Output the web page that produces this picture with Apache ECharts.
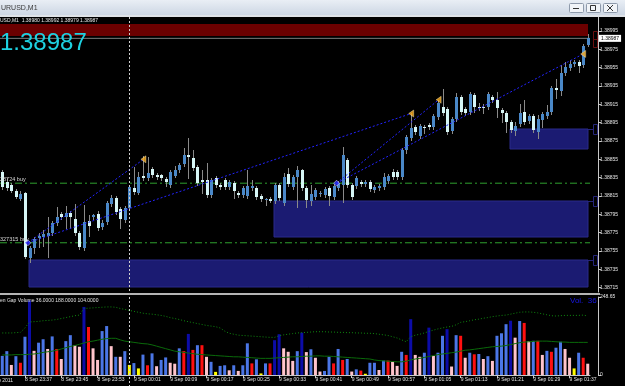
<!DOCTYPE html>
<html><head><meta charset="utf-8">
<script src="https://cdn.jsdelivr.net/npm/echarts@6/dist/echarts.min.js"></script>
<style>html,body{margin:0;padding:0;background:#000;overflow:hidden}#c{width:625px;height:386px}</style>
</head><body><div id="c"></div>
<script>
// ---------- data ----------
const opens = [
1.38841,1.38830,1.38827,1.38820,1.38812,1.38818,1.38747,1.38758,1.38769,1.38770,
1.38771,1.38775,1.38786,1.38795,1.38792,1.38796,1.38790,1.38775,1.38758,1.38788,
1.38792,1.38795,1.38781,1.38787,1.38806,1.38813,1.38801,1.38789,1.38802,1.38824,
1.38818,1.38837,1.38835,1.38844,1.38838,1.38838,1.38834,1.38827,1.38837,1.38843,
1.38850,1.38860,1.38856,1.38847,1.38832,1.38832,1.38816,1.38835,1.38827,1.38832,
1.38825,1.38829,1.38818,1.38816,1.38815,1.38824,1.38824,1.38815,1.38811,1.38812,
1.38810,1.38827,1.38807,1.38839,1.38825,1.38836,1.38843,1.38824,1.38810,1.38814,
1.38817,1.38816,1.38824,1.38814,1.38824,1.38827,1.38854,1.38827,1.38826,1.38830,
1.38828,1.38830,1.38822,1.38824,1.38825,1.38831,1.38841,1.38841,1.38836,1.38865,
1.38878,1.38890,1.38880,1.38890,1.38892,1.38890,1.38901,1.38912,1.38910,1.38886,
1.38899,1.38923,1.38910,1.38907,1.38925,1.38912,1.38912,1.38912,1.38923,1.38920,
1.38909,1.38906,1.38896,1.38886,1.38894,1.38907,1.38897,1.38902,1.38885,1.38898,
1.38902,1.38907,1.38933,1.38930,1.38949,1.38955,1.38959,1.38961,1.38958,1.38980];
const closes = [
1.38825,1.38824,1.38820,1.38814,1.38817,1.38748,1.38758,1.38768,1.38771,1.38774,
1.38775,1.38786,1.38792,1.38792,1.38796,1.38792,1.38775,1.38759,1.38787,1.38782,
1.38794,1.38780,1.38786,1.38807,1.38813,1.38798,1.38790,1.38802,1.38825,1.38819,
1.38836,1.38835,1.38840,1.38838,1.38836,1.38835,1.38830,1.38841,1.38843,1.38849,
1.38860,1.38858,1.38846,1.38829,1.38830,1.38816,1.38832,1.38827,1.38825,1.38825,
1.38830,1.38820,1.38816,1.38824,1.38826,1.38826,1.38814,1.38812,1.38812,1.38810,
1.38827,1.38813,1.38836,1.38828,1.38836,1.38843,1.38824,1.38811,1.38817,1.38822,
1.38818,1.38823,1.38815,1.38826,1.38829,1.38860,1.38827,1.38814,1.38835,1.38828,
1.38830,1.38823,1.38825,1.38826,1.38836,1.38837,1.38836,1.38836,1.38865,1.38879,
1.38889,1.38885,1.38891,1.38889,1.38890,1.38902,1.38916,1.38906,1.38885,1.38899,
1.38923,1.38907,1.38906,1.38926,1.38912,1.38911,1.38912,1.38926,1.38920,1.38911,
1.38906,1.38896,1.38887,1.38891,1.38906,1.38896,1.38902,1.38887,1.38899,1.38904,
1.38907,1.38933,1.38931,1.38949,1.38956,1.38959,1.38961,1.38957,1.38979,1.38987];
const lows = [
1.38823,1.38822,1.38819,1.38813,1.38811,1.38747,1.38743,1.38753,1.38759,1.38760,
1.38748,1.38772,1.38783,1.38790,1.38780,1.38780,1.38772,1.38757,1.38756,1.38771,
1.38790,1.38778,1.38779,1.38784,1.38804,1.38795,1.38780,1.38787,1.38800,1.38817,
1.38817,1.38832,1.38832,1.38836,1.38834,1.38832,1.38826,1.38825,1.38836,1.38841,
1.38848,1.38835,1.38843,1.38827,1.38818,1.38814,1.38814,1.38825,1.38823,1.38823,
1.38823,1.38813,1.38814,1.38814,1.38813,1.38822,1.38812,1.38810,1.38805,1.38808,
1.38807,1.38811,1.38805,1.38826,1.38823,1.38803,1.38822,1.38803,1.38805,1.38812,
1.38815,1.38814,1.38805,1.38812,1.38822,1.38808,1.38825,1.38812,1.38824,1.38826,
1.38826,1.38820,1.38819,1.38822,1.38823,1.38829,1.38834,1.38834,1.38834,1.38862,
1.38876,1.38883,1.38878,1.38884,1.38888,1.38888,1.38899,1.38903,1.38883,1.38884,
1.38897,1.38904,1.38903,1.38904,1.38907,1.38909,1.38906,1.38910,1.38918,1.38901,
1.38896,1.38885,1.38885,1.38882,1.38891,1.38894,1.38895,1.38885,1.38878,1.38890,
1.38900,1.38904,1.38922,1.38925,1.38947,1.38952,1.38957,1.38950,1.38956,1.38979];
const highs = [
1.38843,1.38835,1.38829,1.38823,1.38820,1.38819,1.38760,1.38770,1.38775,1.38778,
1.38792,1.38788,1.38803,1.38798,1.38804,1.38799,1.38806,1.38777,1.38805,1.38794,
1.38795,1.38799,1.38789,1.38810,1.38816,1.38815,1.38803,1.38804,1.38827,1.38847,
1.38841,1.38859,1.38858,1.38847,1.38840,1.38839,1.38836,1.38843,1.38848,1.38851,
1.38867,1.38878,1.38865,1.38849,1.38843,1.38851,1.38835,1.38837,1.38829,1.38835,
1.38832,1.38831,1.38820,1.38826,1.38843,1.38832,1.38826,1.38817,1.38813,1.38814,
1.38829,1.38829,1.38840,1.38846,1.38838,1.38848,1.38844,1.38826,1.38827,1.38824,
1.38820,1.38825,1.38826,1.38828,1.38831,1.38868,1.38856,1.38829,1.38837,1.38832,
1.38832,1.38832,1.38827,1.38828,1.38840,1.38839,1.38844,1.38843,1.38867,1.38882,
1.38906,1.38892,1.38894,1.38892,1.38895,1.38904,1.38920,1.38932,1.38912,1.38901,
1.38927,1.38925,1.38912,1.38928,1.38927,1.38916,1.38915,1.38928,1.38925,1.38928,
1.38911,1.38908,1.38898,1.38896,1.38915,1.38920,1.38904,1.38904,1.38903,1.38907,
1.38914,1.38935,1.38943,1.38958,1.38961,1.38963,1.38963,1.38963,1.38981,1.38992];

const volumes = [
61,76,32,60,39,122,238,77,103,114,
83,123,83,51,108,127,95,90,217,153,
85,48,140,156,92,58,58,76,32,38,
21,65,31,69,28,48,56,39,36,85,
76,131,80,95,95,58,42,10,29,31,
15,31,13,31,101,37,50,5,37,37,
111,130,85,74,45,76,135,73,82,55,
11,13,58,37,83,48,51,11,18,14,
4,39,39,16,46,46,42,29,74,64,
178,64,58,71,151,61,71,125,146,27,
127,125,55,71,66,67,51,60,45,125,
133,162,173,119,172,166,108,109,109,64,
77,74,87,106,83,55,21,71,55,36];
// volume class: B bull, N strong bull, P bear, R strong bear, Y low
const volClass = ("BBPBRBNPBB"+"PBRPBBPPNR"+"PPBBPBPBYB"+"YBRBPBBPPB"+"RNRBRPBYBB"+
  "PBPBBRBYBR"+"NNPPPBNPBP"+"PBBRBRBPBR"+"YBBPBRPPBR"+"NPPBNPBBNP"+
  "BRPBRBPBPB"+"BBNPBRPBRP"+"BRBBPPYBRP").split("");
const upperBand = [
134,134,134,135,136,150,169,170,171,173,
174,175,177,180,183,186,189,191,212,213,
214,215,216,217,217,216,212,209,206,203,
200,197,195,194,192,190,187,183,180,177,
173,170,167,164,161,158,156,154,150,140,
133,130,127,126,125,124,123,122,121,120,
120,125,128,130,132,134,135,136,137,138,
138,138,137,137,136,136,135,135,134,134,
133,133,132,130,128,126,122,118,112,106,
122,127,130,134,139,143,147,150,153,155,
160,168,170,173,176,178,181,183,186,188,
190,191,194,197,200,201,201,200,198,195,
192,189,188,189,190,190,190,190,191,188];
const avgLine = [
64,64,64,65,65,65,66,67,69,72,
74,76,79,83,87,91,94,98,102,106,
108,111,114,116,117,117,112,108,106,104,
102,100,99,96,92,88,84,80,76,74,
72,70,68,66,65,64,63,62,61,60,
59,58,58,57,56,55,54,53,53,53,
54,55,56,57,58,58,59,60,60,61,
61,60,60,59,58,57,56,55,54,53,
52,51,48,46,45,44,43,42,42,44,
48,51,53,56,59,62,65,67,69,71,
73,76,79,80,82,84,86,88,90,91,
92,94,97,100,103,105,106,107,108,108,
108,107,106,105,105,104,104,104,104,104];

const priceTicks = [1.38715,1.38735,1.38755,1.38775,1.38795,1.38815,1.38835,1.38855,1.38875,1.38895,1.38915,1.38935,1.38955,1.38975,1.38995];
const volTicks = [0, 248.65];
const timeTicks = ['8 Sep 23:37','8 Sep 23:45','8 Sep 23:53','9 Sep 00:01','9 Sep 00:09','9 Sep 00:17','9 Sep 00:25','9 Sep 00:33','9 Sep 00:41','9 Sep 00:49','9 Sep 00:57','9 Sep 01:05','9 Sep 01:13','9 Sep 01:21','9 Sep 01:29','9 Sep 01:37'];
const firstBar = {day: 8, hour: 23, minute: 32};
const separatorBar = '9 Sep 00:00';

// rectangles (bar index from/to, price top/bottom)
const zoneFrom   = [5.9, 59.8, 111.9, -2];
const zoneTo     = [129, 129, 129, 129];
const zoneTop    = [1.38745, 1.38810, 1.38888, 1.39003];
const zoneBottom = [1.38716, 1.38770, 1.38866, 1.38990];
const zoneKind   = ['blue','blue','blue','red'];

// trade arrows (open -> close)
const tradeOpenX  = [5.65, 5.65, 73.66, 73.66];
const tradeOpenP  = [1.38764, 1.38764, 1.38829, 1.38829];
const tradeCloseX = [31.1, 90.1, 96.15, 128.0];
const tradeCloseP = [1.38855, 1.38905, 1.38920, 1.38970];

const orderPrices = [1.38829, 1.38764];
const orderLabels = ['28724 buy', '327315 buy'];
const bidPrice = 1.38987;
const lastBar = {o: 1.38980, h: 1.38992, l: 1.38979, c: 1.38987};
const indicatorValues = [36, 188, 104];

// ---------- build ----------
const categories = [];
for (let i = 0; i < opens.length; i++) {
  let m = firstBar.hour * 60 + firstBar.minute + i, d = firstBar.day;
  if (m >= 1440) { m -= 1440; d += 1; }
  categories.push(d + ' Sep ' + String(Math.floor(m / 60)).padStart(2, '0') + ':' + String(m % 60).padStart(2, '0'));
}
const N = categories.length;
const FONT = 'Liberation Sans';
const volColors = {B: '#4b76e6', N: '#0c0ca8', P: '#ffc4cc', R: '#ff1010', Y: '#ffff00'};
const tickShow = (idx, val) => timeTicks.indexOf(categories[idx]) >= 0;

const chart = echarts.init(document.getElementById('c'), null, {renderer: 'canvas'});
const GL = -1, GW = 591;

const option = {
  backgroundColor: '#000',
  animation: false,
  grid: [
    {left: GL, top: 17, width: GW, height: 275},
    {left: GL, top: 297, width: GW, height: 78}
  ],
  xAxis: [
    {type: 'category', gridIndex: 0, data: categories, show: false},
    {type: 'value', gridIndex: 0, min: -0.5, max: N - 0.5, show: false},
    {type: 'category', gridIndex: 1, data: categories,
      axisLine: {show: true, onZero: false, lineStyle: {color: '#c8c8c8', width: 1}},
      axisTick: {show: true, alignWithLabel: true, interval: tickShow, length: 3, lineStyle: {color: '#c8c8c8'}},
      axisLabel: {show: true, interval: tickShow, align: 'left', margin: 2, color: '#e0e0e0', fontSize: 5, fontFamily: FONT},
      splitLine: {show: false}}
  ],
  yAxis: [
    {type: 'value', gridIndex: 0, position: 'right', offset: 8, min: 1.387103, max: 1.390103, scale: true,
      axisLine: {show: true, onZero: false, lineStyle: {color: '#c8c8c8'}},
      axisTick: {show: true, length: 3, customValues: priceTicks, lineStyle: {color: '#c8c8c8'}},
      axisLabel: {show: true, customValues: priceTicks, margin: 2, color: '#e6e6e6', fontSize: 5, fontFamily: FONT,
        formatter: v => v.toFixed(5)},
      splitLine: {show: false}},
    {type: 'value', gridIndex: 1, position: 'right', offset: 8, min: 0, max: 248.65,
      axisLine: {show: true, onZero: false, lineStyle: {color: '#c8c8c8'}},
      axisTick: {show: true, length: 3, customValues: volTicks, lineStyle: {color: '#c8c8c8'}},
      axisLabel: {show: true, customValues: volTicks, margin: 2, color: '#e6e6e6', fontSize: 5, fontFamily: FONT,
        formatter: v => (v === 0 ? '0' : v.toFixed(2))},
      splitLine: {show: false}}
  ],
  series: []
};

// zones
option.series.push({
  type: 'custom', xAxisIndex: 1, yAxisIndex: 0, z: 1, clip: false,
  data: zoneFrom.map((x, i) => [x, zoneTo[i], zoneTop[i], zoneBottom[i], zoneKind[i] === 'red' ? 1 : 0]),
  renderItem(params, api) {
    const p1 = api.coord([api.value(0), api.value(2)]);
    const p2 = api.coord([api.value(1), api.value(3)]);
    const red = api.value(4) === 1;
    const cs = params.coordSys;
    const shape = echarts.graphic.clipRectByRect(
      {x: Math.round(p1[0]), y: Math.round(p1[1]), width: Math.round(p2[0]) - Math.round(p1[0]), height: Math.round(p2[1]) - Math.round(p1[1])},
      {x: cs.x, y: cs.y, width: cs.width, height: cs.height});
    if (!shape) return null;
    const bx = Math.round(p2[0]) + 5.5;
    const ch = [{type: 'rect', shape, style: {fill: red ? '#6b0000' : '#1b1b72', stroke: red ? null : '#2a2a8a', lineWidth: red ? 0 : 1}}];
    if (red) {
      const yb = Math.round(p2[1]);
      ch.push({type: 'rect', shape: {x: bx, y: yb - 4.5, width: 4, height: 8}, style: {fill: 'none', stroke: '#6a1010', lineWidth: 1}});
      ch.push({type: 'rect', shape: {x: bx, y: yb + 3.5, width: 4, height: 8}, style: {fill: 'none', stroke: '#6a1010', lineWidth: 1}});
    } else {
      const yt = Math.round(p1[1]);
      ch.push({type: 'rect', shape: {x: bx, y: yt - 4.5, width: 4, height: 10}, style: {fill: 'none', stroke: '#25257a', lineWidth: 1}});
      ch.push({type: 'line', shape: {x1: Math.round(p2[0]), y1: yt + 0.5, x2: bx, y2: yt + 0.5}, style: {stroke: '#25257a', lineWidth: 1}});
    }
    return {type: 'group', children: ch};
  }
});

// candles
option.series.push({
  type: 'custom', xAxisIndex: 0, yAxisIndex: 0, z: 5,
  data: opens.map((o, i) => [i, o, closes[i], lows[i], highs[i]]),
  renderItem(params, api) {
    const i = api.value(0), o = api.value(1), c = api.value(2), l = api.value(3), h = api.value(4);
    const po = api.coord([i, o]), pc = api.coord([i, c]), pl = api.coord([i, l]), ph = api.coord([i, h]);
    const cx = Math.round(po[0]);
    const yh = Math.round(ph[1]), yl = Math.round(pl[1]);
    const top = Math.round(Math.min(po[1], pc[1])), bot = Math.round(Math.max(po[1], pc[1]));
    const ch = [{type: 'rect', shape: {x: cx, y: yh, width: 1, height: Math.max(1, yl - yh + 1)}, style: {fill: '#8a8a8a'}}];
    if (bot - top < 1) ch.push({type: 'rect', shape: {x: cx - 1, y: top, width: 3, height: 1}, style: {fill: '#cfeeee'}});
    else ch.push({type: 'rect', shape: {x: cx - 1, y: top, width: 3, height: bot - top}, style: {fill: c > o ? '#4a88c8' : '#d6f6f6'}});
    return {type: 'group', children: ch};
  }
});

// order lines
orderPrices.forEach(p => option.series.push({
  type: 'line', xAxisIndex: 1, yAxisIndex: 0, z: 3, symbol: 'none', silent: true,
  data: [[-0.5, p], [N - 0.5, p]],
  lineStyle: {color: '#2fa02f', width: 1, type: [7, 3, 2, 3]}
}));

// bid line
option.series.push({
  type: 'line', xAxisIndex: 1, yAxisIndex: 0, z: 4, symbol: 'none', silent: true,
  data: [[-0.5, bidPrice], [N - 0.5, bidPrice]],
  lineStyle: {color: '#7a7a7a', width: 1},
  endLabel: {show: true, formatter: bidPrice.toFixed(5), backgroundColor: '#fff', color: '#000', fontSize: 5, fontFamily: FONT, padding: [1, 2], distance: 9}
});

// trade lines
tradeOpenX.forEach((x, k) => option.series.push({
  type: 'line', xAxisIndex: 1, yAxisIndex: 0, z: 6, symbol: 'none', silent: true,
  data: [[x, tradeOpenP[k]], [tradeCloseX[k], tradeCloseP[k]]],
  lineStyle: {color: '#2323ff', width: 1, type: [2, 2]}
}));
option.series.push({
  type: 'scatter', xAxisIndex: 1, yAxisIndex: 0, z: 7, silent: true,
  symbol: 'diamond', symbolSize: 6,
  itemStyle: {color: '#2a2aff', borderColor: '#ffffff', borderWidth: 0.6},
  data: [[tradeOpenX[0], tradeOpenP[0]], [tradeOpenX[2], tradeOpenP[2]]]
});
option.series.push({
  type: 'scatter', xAxisIndex: 1, yAxisIndex: 0, z: 7, silent: true,
  symbol: 'path://M0,5 L8,0 L8,10 Z', symbolSize: [5, 7],
  itemStyle: {color: '#ffae1a', borderColor: '#fff2c0', borderWidth: 0.5},
  data: tradeCloseX.map((x, k) => [x, tradeCloseP[k]])
});

// volume histogram
option.series.push({
  type: 'bar', xAxisIndex: 2, yAxisIndex: 1, barWidth: 3, z: 2, silent: true,
  data: volumes.map((v, i) => ({value: v, itemStyle: {color: volColors[volClass[i]]}}))
});
option.series.push({
  type: 'line', xAxisIndex: 2, yAxisIndex: 1, z: 3, symbol: 'none', silent: true,
  data: upperBand, lineStyle: {color: '#0f8a0f', width: 1, type: [1, 2]}
});
option.series.push({
  type: 'line', xAxisIndex: 2, yAxisIndex: 1, z: 3, symbol: 'none', silent: true,
  data: avgLine, lineStyle: {color: '#0a6a0a', width: 1}
});

chart.setOption(option);

// ---------- overlays (positions from the chart's own scales) ----------
const sepX = Math.round(chart.convertToPixel({xAxisIndex: 0}, separatorBar)) + 0.5;
const oy = orderPrices.map(p => chart.convertToPixel({yAxisIndex: 0}, p));
const g = [];
g.push({type: 'rect', z: 100, shape: {x: 0, y: 0, width: 625, height: 15},
  style: {fill: new echarts.graphic.LinearGradient(0, 0, 0, 1, [{offset: 0, color: '#e9eef5'}, {offset: 1, color: '#cdd7e4'}])}});
g.push({type: 'rect', z: 100, shape: {x: 0, y: 15, width: 625, height: 2}, style: {fill: '#dfe3e8'}});
g.push({type: 'text', z: 101, x: 1, y: 8, style: {text: 'URUSD,M1', fill: '#3a3a3a', font: '7px ' + FONT, verticalAlign: 'middle'}});
[569, 586, 603].forEach((bx, k) => {
  g.push({type: 'rect', z: 101, shape: {x: bx + 0.5, y: 3.5, width: 14, height: 9, r: 1}, style: {fill: '#f1f4f8', stroke: '#8e9aab', lineWidth: 1}});
});
g.push({type: 'rect', z: 102, shape: {x: 573, y: 8, width: 6, height: 1}, style: {fill: '#333'}});
g.push({type: 'rect', z: 102, shape: {x: 590.5, y: 5.5, width: 5, height: 5}, style: {fill: 'none', stroke: '#333', lineWidth: 1}});
g.push({type: 'line', z: 102, shape: {x1: 607, y1: 5, x2: 613, y2: 11}, style: {stroke: '#333', lineWidth: 1}});
g.push({type: 'line', z: 102, shape: {x1: 613, y1: 5, x2: 607, y2: 11}, style: {stroke: '#333', lineWidth: 1}});
// period separator
g.push({type: 'line', z: 50, shape: {x1: sepX, y1: 17, x2: sepX, y2: 386}, style: {stroke: '#d0d0d0', lineWidth: 1, lineDash: [2, 2]}});
// pane separator
g.push({type: 'rect', z: 60, shape: {x: 0, y: 293, width: 600, height: 2}, style: {fill: '#b4b4b4'}});
// texts
g.push({type: 'text', z: 90, x: 0, y: 21, style: {text: 'USD,M1  ' + [lastBar.o, lastBar.h, lastBar.l, lastBar.c].map(v => v.toFixed(5)).join(' '), fill: '#e8e8e8', font: '5px ' + FONT, verticalAlign: 'middle'}});
g.push({type: 'text', z: 90, x: 0, y: 43, style: {text: bidPrice.toFixed(5), fill: '#1ed2e2', font: '24px ' + FONT, verticalAlign: 'middle'}});
orderLabels.forEach((t, k) => g.push({type: 'text', z: 90, x: 0, y: oy[k] - 3.5, style: {text: t, fill: '#d8d8d8', font: '5.5px ' + FONT, verticalAlign: 'middle'}}));
g.push({type: 'text', z: 90, x: 0, y: 301, style: {text: 'en Gap Volume ' + indicatorValues.map(v => v.toFixed(4)).join(' '), fill: '#e0e0e0', font: '5px ' + FONT, verticalAlign: 'middle'}});
g.push({type: 'text', z: 90, x: 570, y: 301, style: {text: 'Vol.  ' + volumes[N - 1], fill: '#1818e8', font: '8px ' + FONT, verticalAlign: 'middle'}});
g.push({type: 'text', z: 90, x: 13, y: 381, style: {text: '8 Sep 2011', fill: '#e0e0e0', font: '5px ' + FONT, verticalAlign: 'middle', align: 'right'}});
chart.setOption({graphic: g});
</script>
</body></html>
